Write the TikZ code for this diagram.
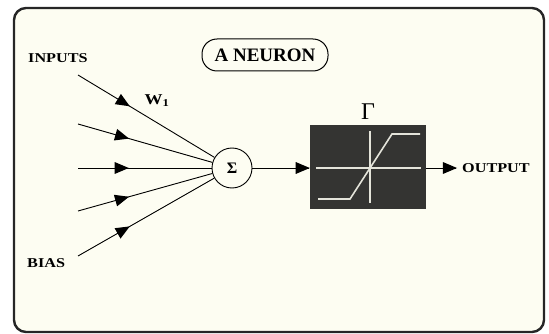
\documentclass[tikz,border=0pt]{standalone}
\usepackage{fontspec}
\setmainfont{Liberation Serif}
\usetikzlibrary{positioning,arrows,shapes,calc}
\usetikzlibrary{decorations.markings}
\definecolor{paper}{RGB}{253,253,242}
\definecolor{screen}{RGB}{52,52,50}
\definecolor{trace}{RGB}{228,228,218}
\tikzset{
  weight/.style={line width=0.9pt,draw=black, postaction={decorate},
    decoration={markings,mark=at position .38 with {\arrow[black,scale=1.7]{triangle 45}}}},
  signal/.style={line width=0.9pt,draw=black, shorten >=1pt, postaction={decorate},
    decoration={markings,mark=at position 1 with {\arrow[black,scale=1.7]{triangle 45}}}},
  tag/.style={font=\fontsize{13.5}{13.5}\selectfont\bfseries, inner sep=0pt, xscale=1.2},
  trace/.style={draw=trace, line width=1.6pt}
}

\begin{document}
\begin{tikzpicture}[x=1pt,y=-1pt, node distance=6pt]
  \useasboundingbox (0,0) rectangle (549,334);
  \draw[line width=2.4pt, draw=black!85, rounded corners=12pt, fill=paper] (14,8) rectangle (544,332);

  \node[draw, line width=1pt, rounded corners=15pt, minimum width=126pt, minimum height=32pt,
        inner sep=0pt, font=\fontsize{19}{19}\selectfont\bfseries] (title) at (265,55) {A NEURON};

  \node[tag, anchor=west] (inputs) at (28,58) {INPUTS};
  \node[tag, anchor=west] (bias) at (27,263) {BIAS};

  % input lines
  \coordinate (x1) at (78,75);
  \coordinate (x2) at (78,124);
  \coordinate (x3) at (78,168);
  \coordinate (x4) at (78,211);
  \coordinate (x5) at (78,256);

  \node[circle, draw, line width=0.9pt, minimum size=40pt, inner sep=0pt, fill=paper,
        font=\fontsize{16}{16}\selectfont\bfseries] (sum) at (232,168) {Σ};

  \foreach \i in {1,...,5}
    \draw[weight] (x\i) -- (sum);

  \node[tag, xscale=1] (w) at (157,101) {\fontsize{15}{15}\selectfont W$_{\mathbf{1}}$};

  % transfer function
  \node[fill=screen, minimum width=116pt, minimum height=84pt, inner sep=0pt] (box) at (368,167) {};
  \draw[trace] ($(box.west)+(6,1)$) -- ($(box.east)+(-5,1)$);
  \draw[trace] ($(box.center)+(2,-36)$) -- ($(box.center)+(2,36)$);
  \draw[trace] ($(box.center)+(-50,32)$) -- ($(box.center)+(-18,32)$)
    -- ($(box.center)+(24,-33)$) -- ($(box.center)+(52,-33)$);
  \node[above=2pt of box, font=\fontsize{24}{24}\selectfont] (gamma) {Γ};

  \draw[signal] (sum) -- (box.west |- sum);
  \coordinate (out) at (457,168);
  \draw[signal] (box.east |- out) -- (out);
  \node[tag, right=5pt of out] (output) {OUTPUT};
\end{tikzpicture}
\end{document}
